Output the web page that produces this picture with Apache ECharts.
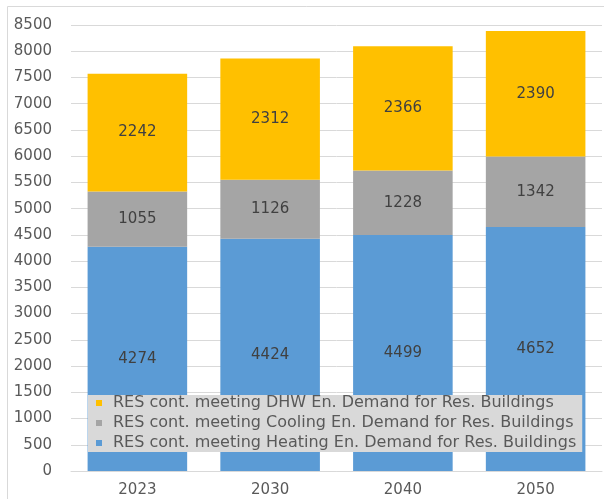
<!DOCTYPE html>
<html>
<head>
<meta charset="utf-8">
<script src="https://cdn.jsdelivr.net/npm/echarts@6/dist/echarts.min.js"></script>
<style>
  html, body { margin: 0; padding: 0; background: #ffffff; }
  #chart { width: 604px; height: 499px; }
</style>
</head>
<body>
<div id="chart"></div>
<script>
// Years on the horizontal axis
const years = ['2023', '2030', '2040', '2050'];

// Renewable energy contribution by end use (stacked)
const heating = [4274, 4424, 4499, 4652];
const cooling = [1055, 1126, 1228, 1342];
const dhw = [2242, 2312, 2366, 2390];

const seriesNames = [
  'RES cont. meeting Heating En. Demand for Res. Buildings',
  'RES cont. meeting Cooling En. Demand for Res. Buildings',
  'RES cont. meeting DHW En. Demand for Res. Buildings'
];
const colors = ['#5b9bd5', '#a5a5a5', '#ffc000'];

const font = 'DejaVu Sans';
const textColor = '#595959';

const chart = echarts.init(document.getElementById('chart'), null, { renderer: 'canvas' });

function barSeries(name, data, color) {
  return {
    name: name,
    type: 'bar',
    stack: 'total',
    data: data,
    barCategoryGap: '25%',
    itemStyle: { color: color },
    label: {
      show: true,
      position: 'inside',
      color: '#404040',
      fontFamily: font,
      fontSize: 15
    },
    emphasis: { disabled: true }
  };
}

chart.setOption({
  animation: false,
  color: colors,
  graphic: [{
    type: 'rect',
    shape: { x: 7.5, y: 6.5, width: 610, height: 510 },
    style: { fill: 'none', stroke: '#d9d9d9', lineWidth: 1 },
    z: -1
  }],
  grid: { left: 71, right: 2, top: 25, bottom: 28, containLabel: false },
  legend: {
    orient: 'vertical',
    left: 88,
    top: 395,
    padding: [0, 6, 1, 8],
    itemGap: 4,
    itemWidth: 6,
    itemHeight: 6,
    icon: 'rect',
    backgroundColor: '#d9d9d9',
    data: [seriesNames[2], seriesNames[1], seriesNames[0]],
    textStyle: { color: textColor, fontFamily: font, fontSize: 16, lineHeight: 16, padding: [0, 0, 0, 6] }
  },
  xAxis: {
    type: 'category',
    data: years,
    axisTick: { show: false },
    axisLine: { show: true, lineStyle: { color: '#d9d9d9' } },
    axisLabel: { color: textColor, fontFamily: font, fontSize: 15, margin: 12 }
  },
  yAxis: {
    type: 'value',
    min: 0,
    max: 8500,
    interval: 500,
    axisLine: { show: false },
    axisTick: { show: false },
    splitLine: { lineStyle: { color: '#d9d9d9' } },
    axisLabel: {
      color: textColor, fontFamily: font, fontSize: 15, margin: 19,
      formatter: function (v) { return String(v); }
    }
  },
  series: [
    barSeries(seriesNames[0], heating, colors[0]),
    barSeries(seriesNames[1], cooling, colors[1]),
    barSeries(seriesNames[2], dhw, colors[2])
  ]
});
</script>
</body>
</html>
